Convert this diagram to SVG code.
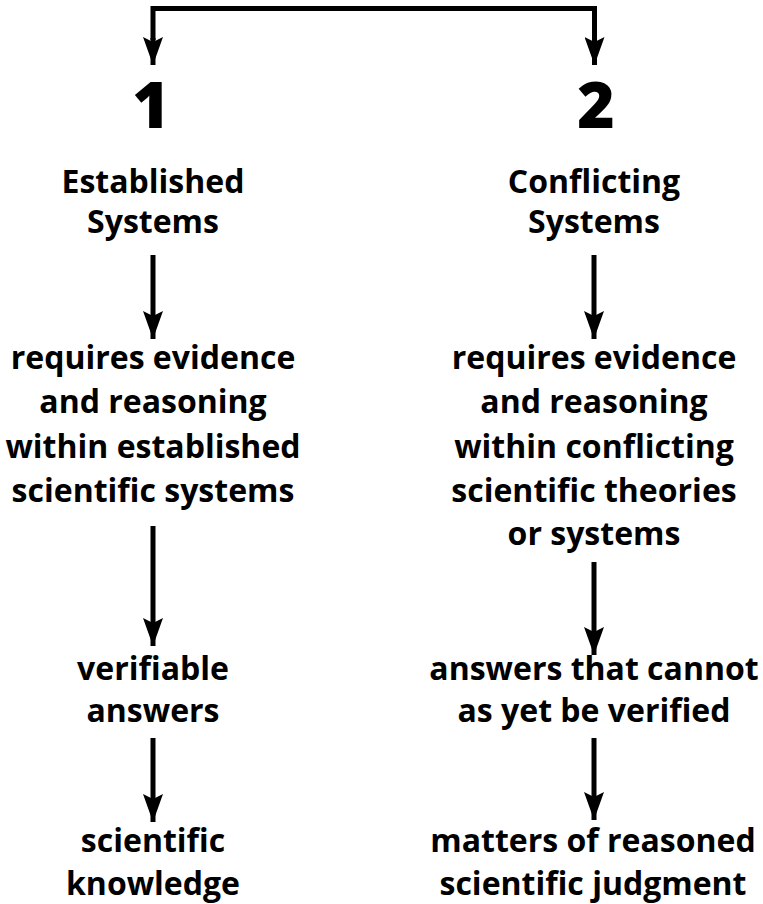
<svg xmlns="http://www.w3.org/2000/svg" width="763" height="904" viewBox="0 0 763 904">
<style>
.t{font-family:"Open Sans","Noto Sans","Liberation Sans",sans-serif;font-weight:700;font-size:32px;fill:#000;text-anchor:middle}
.n{font-family:"Open Sans","Noto Sans","Liberation Sans",sans-serif;font-weight:800;font-size:64px;fill:#000;text-anchor:middle}
.c{fill:none;stroke:#000;stroke-width:5}
</style>
<defs>
<marker id="ah" markerUnits="userSpaceOnUse" markerWidth="28" markerHeight="20" viewBox="0 0 28 20" refX="28" refY="10" orient="auto">
<path d="M0,0 L5,10 L0,20 L28,10 Z" fill="#000"/>
</marker>
</defs>
<rect width="763" height="904" fill="#fff"/>
<g id="connectors">
<path class="c" d="M153,40 V8.5 H594.5 V40"/>
<line class="c" x1="153" y1="38" x2="153" y2="65" marker-end="url(#ah)"/>
<line class="c" x1="594.5" y1="38" x2="594.5" y2="65" marker-end="url(#ah)"/>
<line class="c" x1="153" y1="255" x2="153" y2="339" marker-end="url(#ah)"/>
<line class="c" x1="594" y1="255" x2="594" y2="339" marker-end="url(#ah)"/>
<line class="c" x1="153" y1="526" x2="153" y2="646" marker-end="url(#ah)"/>
<line class="c" x1="594" y1="562" x2="594" y2="655" marker-end="url(#ah)"/>
<line class="c" x1="153" y1="738" x2="153" y2="822" marker-end="url(#ah)"/>
<line class="c" x1="594" y1="738" x2="594" y2="820" marker-end="url(#ah)"/>
</g>
<g id="n1"><text class="n" x="151" y="128">1</text></g>
<g id="n2"><text class="n" x="596" y="128">2</text></g>
<g id="l1"><text class="t" x="153" y="193">Established</text><text class="t" x="153" y="233">Systems</text></g>
<g id="r1"><text class="t" x="594" y="193">Conflicting</text><text class="t" x="594" y="233">Systems</text></g>
<g id="l2"><text class="t" x="153" y="369">requires evidence</text><text class="t" x="153" y="413">and reasoning</text><text class="t" x="153" y="458">within established</text><text class="t" x="153" y="502">scientific systems</text></g>
<g id="r2"><text class="t" x="594" y="369">requires evidence</text><text class="t" x="594" y="413">and reasoning</text><text class="t" x="594" y="458">within conflicting</text><text class="t" x="594" y="502">scientific theories</text><text class="t" x="594" y="545">or systems</text></g>
<g id="l3"><text class="t" x="153" y="680">verifiable</text><text class="t" x="153" y="722">answers</text></g>
<g id="r3"><text class="t" x="594" y="680">answers that cannot</text><text class="t" x="594" y="722">as yet be verified</text></g>
<g id="l4"><text class="t" x="153" y="852">scientific</text><text class="t" x="153" y="895">knowledge</text></g>
<g id="r4"><text class="t" x="593" y="852">matters of reasoned</text><text class="t" x="593" y="895">scientific judgment</text></g>
</svg>
